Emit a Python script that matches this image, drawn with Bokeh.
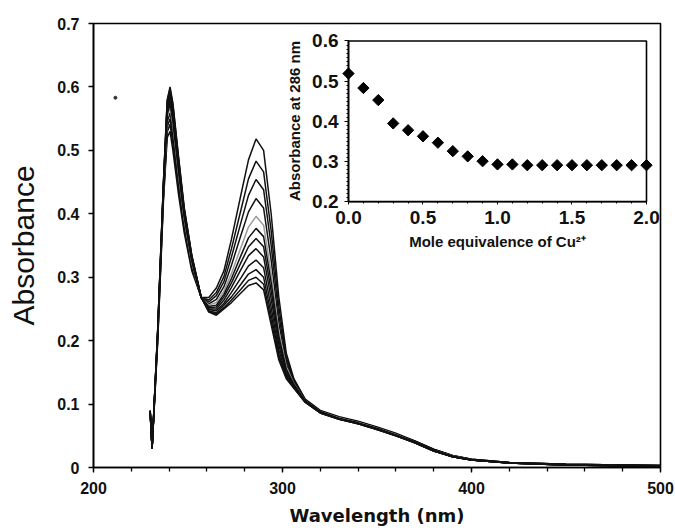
import math
from bokeh.plotting import figure
from bokeh.models import Range1d, LinearAxis, BoxAnnotation, FixedTicker
from bokeh.embed import file_html
from bokeh.resources import INLINE

# ---------------- data ----------------
WAVELENGTH_NM = [230, 231, 234, 237, 239, 240.5, 242, 245, 248, 252,
                 257, 261, 265, 269, 273, 278, 282, 286, 290, 294,
                 298, 302, 306, 312, 320, 330, 340, 350, 360, 370,
                 380, 390, 400, 420, 450, 500]

SPEC_00 = [0.085, 0.03, 0.200, 0.420, 0.520, 0.530, 0.500, 0.430, 0.370, 0.310,
           0.268, 0.268, 0.283, 0.310, 0.360, 0.430, 0.485, 0.518, 0.500, 0.400,
           0.270, 0.180, 0.140, 0.108, 0.090, 0.080, 0.073, 0.064, 0.054, 0.042,
           0.029, 0.019, 0.013, 0.008, 0.005, 0.003]
SPEC_01 = [0.086, 0.03, 0.203, 0.425, 0.529, 0.541, 0.511, 0.439, 0.376, 0.314,
           0.268, 0.264, 0.276, 0.301, 0.345, 0.406, 0.455, 0.483, 0.466, 0.373,
           0.255, 0.174, 0.138, 0.107, 0.089, 0.079, 0.072, 0.063, 0.053, 0.042,
           0.029, 0.019, 0.013, 0.008, 0.005, 0.003]
SPEC_02 = [0.086, 0.03, 0.206, 0.429, 0.537, 0.550, 0.521, 0.447, 0.381, 0.317,
           0.268, 0.261, 0.271, 0.293, 0.332, 0.386, 0.429, 0.454, 0.438, 0.350,
           0.242, 0.169, 0.136, 0.106, 0.089, 0.079, 0.072, 0.063, 0.053, 0.041,
           0.028, 0.018, 0.013, 0.008, 0.005, 0.003]
SPEC_03 = [0.087, 0.03, 0.208, 0.432, 0.545, 0.559, 0.531, 0.455, 0.387, 0.320,
           0.268, 0.258, 0.265, 0.285, 0.319, 0.366, 0.403, 0.424, 0.409, 0.327,
           0.229, 0.163, 0.134, 0.106, 0.088, 0.078, 0.071, 0.062, 0.052, 0.041,
           0.028, 0.018, 0.012, 0.008, 0.005, 0.003]
SPEC_04 = [0.088, 0.03, 0.211, 0.436, 0.552, 0.568, 0.540, 0.462, 0.391, 0.323,
           0.268, 0.256, 0.260, 0.278, 0.306, 0.347, 0.379, 0.396, 0.382, 0.306,
           0.216, 0.159, 0.132, 0.105, 0.088, 0.078, 0.071, 0.062, 0.052, 0.040,
           0.027, 0.018, 0.012, 0.007, 0.004, 0.002]
SPEC_05 = [0.088, 0.03, 0.212, 0.439, 0.557, 0.573, 0.546, 0.467, 0.395, 0.326,
           0.268, 0.254, 0.256, 0.273, 0.298, 0.334, 0.362, 0.377, 0.364, 0.292,
           0.208, 0.155, 0.131, 0.105, 0.088, 0.077, 0.070, 0.061, 0.051, 0.040,
           0.027, 0.018, 0.012, 0.007, 0.004, 0.002]
SPEC_06 = [0.088, 0.03, 0.214, 0.441, 0.561, 0.578, 0.552, 0.471, 0.398, 0.327,
           0.268, 0.252, 0.253, 0.269, 0.291, 0.323, 0.348, 0.361, 0.348, 0.279,
           0.201, 0.152, 0.130, 0.104, 0.087, 0.077, 0.070, 0.061, 0.051, 0.040,
           0.027, 0.017, 0.012, 0.007, 0.004, 0.002]
SPEC_07 = [0.089, 0.03, 0.215, 0.443, 0.566, 0.583, 0.557, 0.476, 0.401, 0.329,
           0.268, 0.250, 0.250, 0.264, 0.284, 0.312, 0.334, 0.345, 0.332, 0.266,
           0.194, 0.149, 0.129, 0.104, 0.087, 0.077, 0.070, 0.061, 0.051, 0.040,
           0.027, 0.017, 0.012, 0.007, 0.004, 0.002]
SPEC_08 = [0.089, 0.03, 0.217, 0.445, 0.571, 0.589, 0.563, 0.481, 0.404, 0.331,
           0.268, 0.249, 0.247, 0.259, 0.276, 0.299, 0.318, 0.327, 0.315, 0.252,
           0.186, 0.146, 0.127, 0.104, 0.087, 0.077, 0.070, 0.061, 0.051, 0.039,
           0.026, 0.017, 0.012, 0.007, 0.004, 0.002]
SPEC_09 = [0.090, 0.03, 0.218, 0.447, 0.574, 0.594, 0.568, 0.484, 0.406, 0.333,
           0.268, 0.247, 0.244, 0.256, 0.269, 0.289, 0.305, 0.312, 0.300, 0.241,
           0.179, 0.144, 0.126, 0.103, 0.086, 0.076, 0.069, 0.060, 0.050, 0.039,
           0.026, 0.017, 0.012, 0.007, 0.004, 0.002]
SPEC_10 = [0.090, 0.03, 0.219, 0.449, 0.578, 0.597, 0.572, 0.488, 0.408, 0.334,
           0.268, 0.246, 0.242, 0.252, 0.264, 0.281, 0.295, 0.300, 0.289, 0.232,
           0.174, 0.142, 0.126, 0.103, 0.086, 0.076, 0.069, 0.060, 0.050, 0.039,
           0.026, 0.017, 0.012, 0.007, 0.004, 0.002]
SPEC_11 = [0.090, 0.03, 0.220, 0.450, 0.580, 0.600, 0.575, 0.490, 0.410, 0.335,
           0.268, 0.245, 0.240, 0.250, 0.260, 0.275, 0.287, 0.291, 0.280, 0.225,
           0.170, 0.140, 0.125, 0.103, 0.086, 0.076, 0.069, 0.060, 0.050, 0.039,
           0.026, 0.017, 0.012, 0.007, 0.004, 0.002]

SPECTRA = [SPEC_00, SPEC_01, SPEC_02, SPEC_03, SPEC_04, SPEC_05,
           SPEC_06, SPEC_07, SPEC_08, SPEC_09, SPEC_10, SPEC_11]
SPECTRA_COLORS = ["#111111", "#111111", "#111111", "#111111", "#9a9a9a", "#111111",
                  "#111111", "#111111", "#111111", "#111111", "#111111", "#111111"]

# stray speck visible on the scan
SPECK_X = [211.6]
SPECK_Y = [0.583]

CU_EQUIV = [0.0, 0.1, 0.2, 0.3, 0.4, 0.5, 0.6, 0.7, 0.8, 0.9, 1.0,
            1.1, 1.2, 1.3, 1.4, 1.5, 1.6, 1.7, 1.8, 1.9, 2.0]
ABS_286 = [0.519, 0.483, 0.453, 0.395, 0.378, 0.363, 0.347, 0.326, 0.313, 0.301, 0.293,
           0.293, 0.291, 0.291, 0.291, 0.291, 0.291, 0.291, 0.291, 0.291, 0.291]

MAIN_X_TICKS = [200, 300, 400, 500]
MAIN_X_LABELS = ["200", "300", "400", "500"]
MAIN_Y_TICKS = [0, 0.1, 0.2, 0.3, 0.4, 0.5, 0.6, 0.7]
MAIN_Y_LABELS = ["0", "0.1", "0.2", "0.3", "0.4", "0.5", "0.6", "0.7"]
INSET_X_TICKS = [0.0, 0.5, 1.0, 1.5, 2.0]
INSET_X_LABELS = ["0.0", "0.5", "1.0", "1.5", "2.0"]
INSET_Y_TICKS = [0.2, 0.3, 0.4, 0.5, 0.6]
INSET_Y_LABELS = ["0.2", "0.3", "0.4", "0.5", "0.6"]

# ---------------- figure ----------------
TICK_FONT = "Liberation Sans"

p = figure(frame_width=567, frame_height=444,
           x_range=Range1d(200, 500), y_range=Range1d(0, 0.7),
           output_backend="svg", toolbar_location=None,
           min_border_left=93, min_border_right=15,
           min_border_top=23, min_border_bottom=62,
           background_fill_color="white", border_fill_color="white")
p.grid.visible = False
p.outline_line_color = "black"
p.outline_line_width = 1.6
p.outline_line_alpha = 1.0

xa = p.below[0]
xa.ticker = FixedTicker(ticks=MAIN_X_TICKS, minor_ticks=list(range(200, 501, 20)))
xa.major_label_overrides = dict(zip(MAIN_X_TICKS, MAIN_X_LABELS))
xa.axis_label = "Wavelength (nm)"
xa.axis_label_text_font = "DejaVu Sans"
xa.axis_label_text_font_style = "bold"
xa.axis_label_text_font_size = "18px"
xa.axis_label_text_color = "#111111"
xa.axis_label_standoff = 8
xa.major_label_text_font = TICK_FONT
xa.major_label_text_font_style = "bold"
xa.major_label_text_font_size = "16px"
xa.major_label_text_color = "#111111"
xa.major_label_standoff = 9
xa.major_tick_out = 5
xa.major_tick_in = 0
xa.minor_tick_out = 4
xa.minor_tick_in = 0
xa.axis_line_width = 1.6
xa.major_tick_line_width = 1.3
xa.minor_tick_line_width = 1.3

ya = p.left[0]
ya.ticker = FixedTicker(ticks=MAIN_Y_TICKS, minor_ticks=[])
ya.major_label_overrides = dict(zip(MAIN_Y_TICKS, MAIN_Y_LABELS))
ya.axis_label = "Absorbance"
ya.axis_label_text_font = TICK_FONT
ya.axis_label_text_font_style = "normal"
ya.axis_label_text_font_size = "30px"
ya.axis_label_text_color = "#111111"
ya.axis_label_standoff = 14
ya.major_label_text_font = TICK_FONT
ya.major_label_text_font_style = "bold"
ya.major_label_text_font_size = "16px"
ya.major_label_text_color = "#111111"
ya.major_label_standoff = 9
ya.major_tick_out = 5
ya.major_tick_in = 0
ya.minor_tick_out = 0
ya.axis_line_width = 1.6
ya.major_tick_line_width = 1.3

for spec, col in zip(SPECTRA, SPECTRA_COLORS):
    p.line(WAVELENGTH_NM, spec, line_color=col, line_width=1.5)

p.scatter(SPECK_X, SPECK_Y, size=3, color="#333333")

# ---------------- inset (its own scales inside the frame) ----------------
p.extra_x_ranges = {"ix": Range1d(-1.7114, 2.094)}
p.extra_y_ranges = {"iy": Range1d(-0.4609, 0.6435)}

p.add_layout(BoxAnnotation(left=0, right=2.0, bottom=0.2, top=0.6,
                           x_range_name="ix", y_range_name="iy",
                           fill_alpha=0, line_color="black", line_alpha=1.0,
                           line_width=1.6))

iy = LinearAxis(x_range_name="ix", y_range_name="iy", fixed_location=0,
                bounds=(0.2, 0.6),
                ticker=FixedTicker(ticks=INSET_Y_TICKS,
                                   minor_ticks=[round(0.2 + 0.01 * i, 2) for i in range(41)]))
iy.major_label_overrides = dict(zip(INSET_Y_TICKS, INSET_Y_LABELS))
iy.axis_label = "Absorbance at 286 nm"
iy.axis_label_text_font = TICK_FONT
iy.axis_label_text_font_style = "bold"
iy.axis_label_text_font_size = "15px"
iy.axis_label_text_color = "#111111"
iy.axis_label_standoff = 6
iy.major_label_text_font = TICK_FONT
iy.major_label_text_font_style = "bold"
iy.major_label_text_font_size = "19px"
iy.major_label_text_color = "#111111"
iy.major_label_standoff = 6
iy.major_tick_out = 4
iy.major_tick_in = 0
iy.minor_tick_out = 2
iy.minor_tick_in = 0
iy.axis_line_width = 1.6
p.add_layout(iy, "left")

ix = LinearAxis(x_range_name="ix", y_range_name="iy", fixed_location=0.2,
                bounds=(0.0, 2.0),
                ticker=FixedTicker(ticks=INSET_X_TICKS,
                                   minor_ticks=[round(0.1 * i, 1) for i in range(21)]))
ix.major_label_overrides = dict(zip(INSET_X_TICKS, INSET_X_LABELS))
ix.axis_label = "Mole equivalence of Cu²⁺"
ix.axis_label_text_font = TICK_FONT
ix.axis_label_text_font_style = "bold"
ix.axis_label_text_font_size = "15px"
ix.axis_label_text_color = "#111111"
ix.axis_label_standoff = 6
ix.major_label_text_font = TICK_FONT
ix.major_label_text_font_style = "bold"
ix.major_label_text_font_size = "19px"
ix.major_label_text_color = "#111111"
ix.major_label_standoff = 6
ix.major_tick_out = 3
ix.major_tick_in = 0
ix.minor_tick_out = 2
ix.minor_tick_in = 0
ix.axis_line_width = 1.6
p.add_layout(ix, "below")

p.scatter(CU_EQUIV, ABS_286, x_range_name="ix", y_range_name="iy",
          marker="square", angle=math.pi / 4, size=8,
          fill_color="black", line_color="black")

open("out.html", "w").write(file_html(p, INLINE))
